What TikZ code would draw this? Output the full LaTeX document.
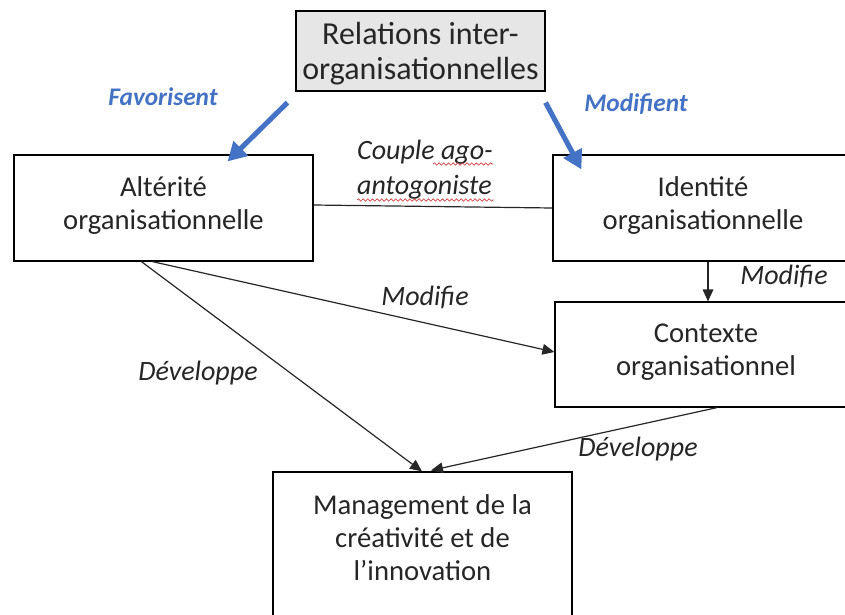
\documentclass[tikz,border=0pt]{standalone}
\usepackage{fontspec}
\setmainfont{Carlito}
\usetikzlibrary{arrows.meta,calc,decorations.pathmorphing}
\definecolor{wordblue}{HTML}{4472C4}
\definecolor{boxgray}{HTML}{E7E6E6}
\definecolor{squig}{HTML}{D04040}
\tikzset{
  px/.style={x=0.75pt,y=-0.75pt},
  box/.style={draw=black,line width=0.9pt,align=center,inner sep=0pt,
    font=\fontsize{21.5}{24.75}\selectfont, text=black!85},
  topbox/.style={box,fill=boxgray,font=\fontsize{24}{26.25}\selectfont},
  lab/.style={font=\fontsize{21}{24.75}\selectfont\itshape,text=black!85,inner sep=0pt},
  bluelab/.style={font=\fontsize{19}{22}\selectfont\bfseries\itshape,text=wordblue,inner sep=0pt},
  conn/.style={draw=black!85,line width=0.9pt},
  arr/.style={conn,-{Triangle[length=9pt,width=8pt]}},
  bluearr/.style={draw=wordblue,line width=3.8pt,-{Triangle[length=14pt,width=15pt]}},
  wavy/.style={draw=squig,line width=0.5pt,decorate,decoration={snake,amplitude=0.9pt,segment length=3.5pt}}
}
\newcommand{\shiftlines}[2]{\raisebox{#1}[\height][\depth]{\begin{tabular}{@{}c@{}}#2\end{tabular}}}
\begin{document}
\begin{tikzpicture}[px]
\useasboundingbox (0,0) rectangle (845,614);
\clip (0,0) rectangle (845,614);
\fill[white] (0,0) rectangle (845,614);
% boxes
\node[topbox,minimum width=249*0.75pt,minimum height=80*0.75pt] (rel) at (420.5,51) {\shiftlines{-3pt}{Relations inter-\\organisationnelles}};
\node[box,minimum width=299*0.75pt,minimum height=106*0.75pt] (alt) at (163.5,208) {\shiftlines{1.5pt}{Altérité\\organisationnelle}};
\node[box,minimum width=300*0.75pt,minimum height=106*0.75pt] (ide) at (703,208) {\shiftlines{1.5pt}{Identité\\organisationnelle}};
\node[box,minimum width=302*0.75pt,minimum height=105*0.75pt] (ctx) at (706,354.5) {\shiftlines{1.5pt}{Contexte\\organisationnel}};
\node[box,minimum width=299*0.75pt,minimum height=148*0.75pt] (mgt) at (422.5,546) {\shiftlines{3.5pt}{Management de la\\créativité et de\\l’innovation}};
% connector end points
\coordinate (altA) at ($(alt.south west)+(128,0)$);
\coordinate (altB) at ($(alt.south west)+(139,0)$);
\coordinate (altR) at ($(alt.east)+(0,-3)$);
\coordinate (ideL) at (ide.west);
\coordinate (ideB) at ($(ide.south)+(5,0)$);
\coordinate (ctxT) at ($(ctx.north)+(2,0)$);
\coordinate (ctxL) at ($(ctx.west)+(0,-2.5)$);
\coordinate (ctxB) at ($(ctx.south)+(11,0)$);
\coordinate (mgtA) at ($(mgt.north)+(-0.5,0)$);
\coordinate (mgtB) at ($(mgt.north)+(8.5,-1)$);
\coordinate (relL) at ($(rel.south west)+(-8,11)$);
\coordinate (relR) at ($(rel.south east)+(0,11)$);
\coordinate (altT) at ($(alt.north east)+(-86,7)$);
\coordinate (ideT) at ($(ide.north west)+(29,15)$);
% connectors
\draw[conn] (altR) -- (ideL);
\draw[arr] (ideB) -- (ctxT);
\draw[arr] (altB) -- (ctxL);
\draw[arr] (altA) -- (mgtA);
\draw[arr] (ctxB) -- (mgtB);
\draw[bluearr] (relL) -- (altT);
\draw[bluearr] (relR) -- (ideT);
% labels
\node[bluelab] (fav) at (163,97) {Favorisent};
\node[bluelab] (modt) at (636,104) {Modifient};
\node[lab,align=left,font=\fontsize{21}{26.25}\selectfont\itshape] (cpl) at (425,170) {Couple ago-\\antogoniste};
\node[lab] (m1) at (784,276) {Modifie};
\node[lab] (m2) at (425,297) {Modifie};
\node[lab] (d1) at (198,373) {Développe};
\node[lab] (d2) at (638,449) {Développe};
% spell-check underlines
\coordinate (w1a) at (433,164);
\coordinate (w1b) at (493,164);
\coordinate (w2a) at (357,200);
\coordinate (w2b) at (494,200);
\draw[wavy] (w1a) -- (w1b);
\draw[wavy] (w2a) -- (w2b);
\end{tikzpicture}
\end{document}
